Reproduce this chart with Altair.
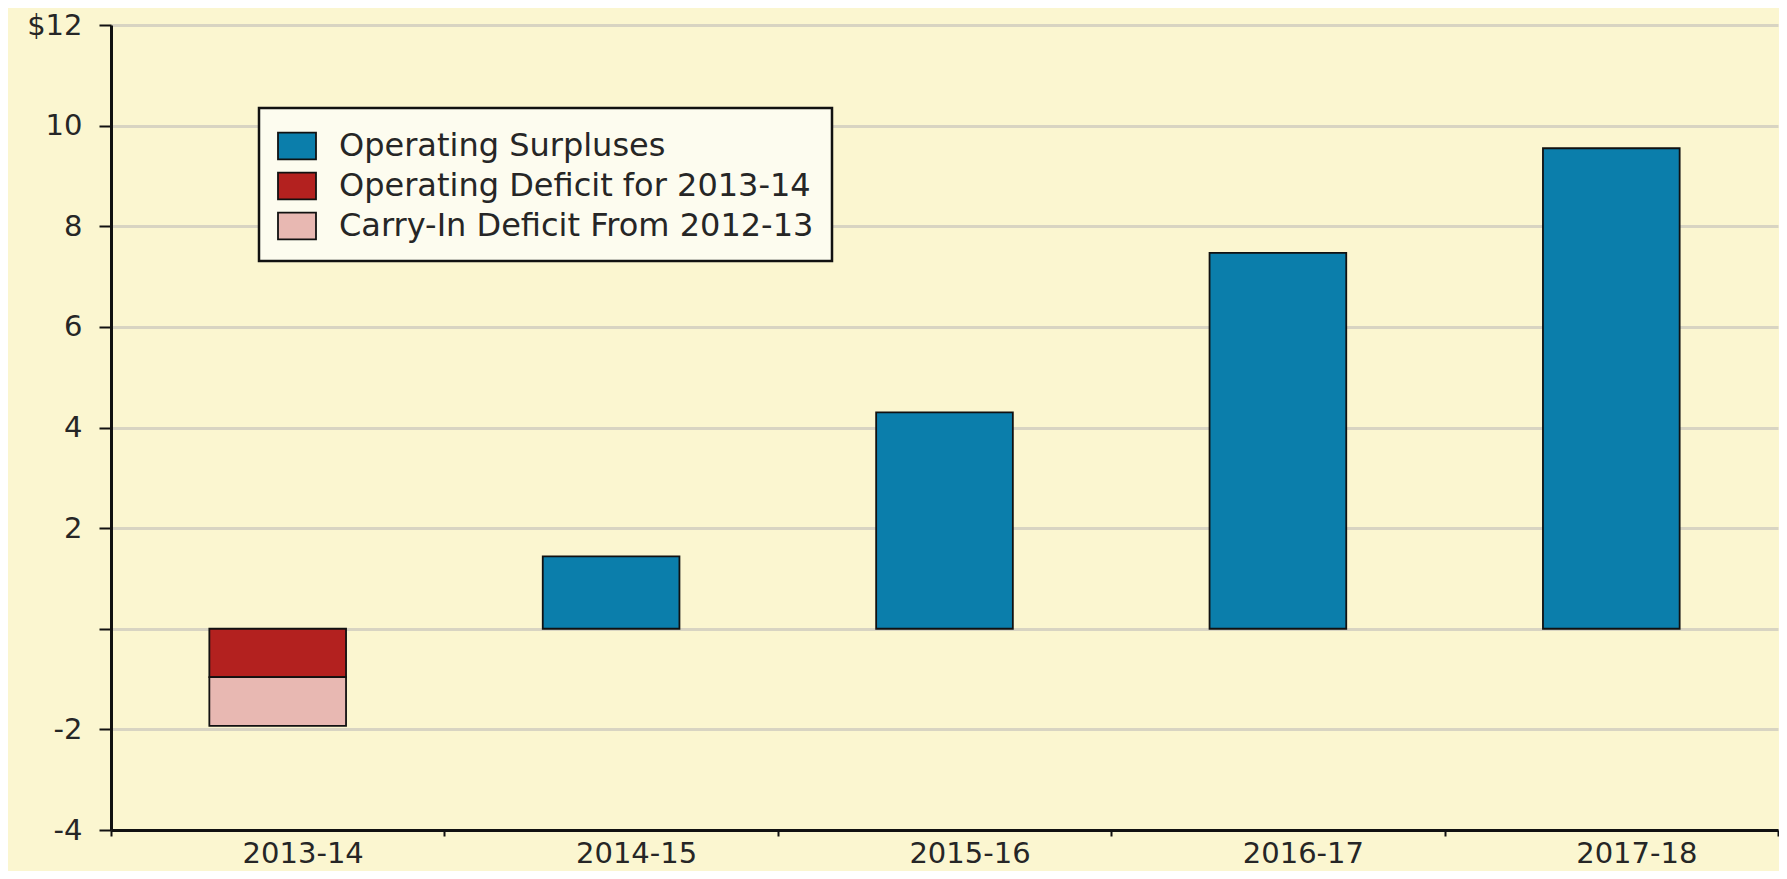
import altair as alt
import pandas as pd

years = ["2013-14", "2014-15", "2015-16", "2016-17", "2017-18"]
surplus_years = ["2014-15", "2015-16", "2016-17", "2017-18"]
surplus_values = [1.44, 4.30, 7.47, 9.55]
deficit_year = "2013-14"
operating_deficit = [-0.96]
carry_in_deficit = [-0.97]

series_names = [
    "Operating Surpluses",
    "Operating Deficit for 2013-14",
    "Carry-In Deficit From 2012-13",
]
series_colors = ["#0b7eab", "#b3211f", "#e8b8b2"]
y_ticks = [-4, -2, 0, 2, 4, 6, 8, 10, 12]

rows = []
for yr, v in zip(surplus_years, surplus_values):
    rows.append({"year": yr, "value": v, "series": series_names[0], "order": 0})
rows.append({"year": deficit_year, "value": operating_deficit[0], "series": series_names[1], "order": 1})
rows.append({"year": deficit_year, "value": carry_in_deficit[0], "series": series_names[2], "order": 2})
df = pd.DataFrame(rows)

FONT = "DejaVu Sans"
TXT = "#262626"

chart = (
    alt.Chart(df)
    .mark_bar(width=alt.RelativeBandSize(0.41), stroke="#111111", strokeWidth=1.8)
    .encode(
        x=alt.X(
            "year:N",
            sort=years,
            scale=alt.Scale(domain=years, paddingInner=0, paddingOuter=0),
            axis=alt.Axis(
                title=None,
                labelAngle=0,
                labelFont=FONT,
                labelFontSize=29,
                labelColor=TXT,
                labelPadding=3,
                labelOffset=25,
                domainColor="#111111",
                domainWidth=3,
                tickColor="#111111",
                tickWidth=2,
                tickSize=6,
                tickBand="extent",
                grid=False,
            ),
        ),
        y=alt.Y(
            "value:Q",
            stack="zero",
            scale=alt.Scale(domain=[-4, 12], nice=False, zero=False),
            axis=alt.Axis(
                title=None,
                values=y_ticks,
                labelExpr="datum.value == 12 ? '$12' : (datum.value == 0 ? '' : '' + datum.value)",
                labelFont=FONT,
                labelFontSize=29,
                labelColor=TXT,
                labelPadding=17,
                domainColor="#111111",
                domainWidth=3,
                tickColor="#111111",
                tickWidth=2,
                tickSize=12,
                grid=True,
                gridColor="#d8d4c2",
                gridWidth=3,
            ),
        ),
        color=alt.Color(
            "series:N",
            scale=alt.Scale(domain=series_names, range=series_colors),
            legend=alt.Legend(
                title=None,
                orient="none",
                legendX=148,
                legendY=83,
                symbolType="M-1,-0.7H1V0.7H-1Z",
                symbolSize=1444,
                symbolStrokeColor="#111111",
                symbolStrokeWidth=1.8,
                symbolOpacity=1,
                labelFont=FONT,
                labelFontSize=32,
                labelColor=TXT,
                labelOffset=22,
                labelLimit=800,
                rowPadding=3,
                padding=18,
                fillColor="#fdfcef",
                strokeColor="#111111",
            ),
        ),
        order=alt.Order("order:Q"),
    )
    .properties(
        width=1667,
        height=805,
        autosize=alt.AutoSizeParams(type="none"),
        padding={"left": 103, "top": 17, "right": 1, "bottom": 41},
        background="#fbf6d0",
    )
    .configure_view(stroke=None, fill="#fbf6d0")
    .configure_legend(strokeWidth=2.5)
)

chart.save("out.html", embed_options={"renderer": "svg", "actions": False})
